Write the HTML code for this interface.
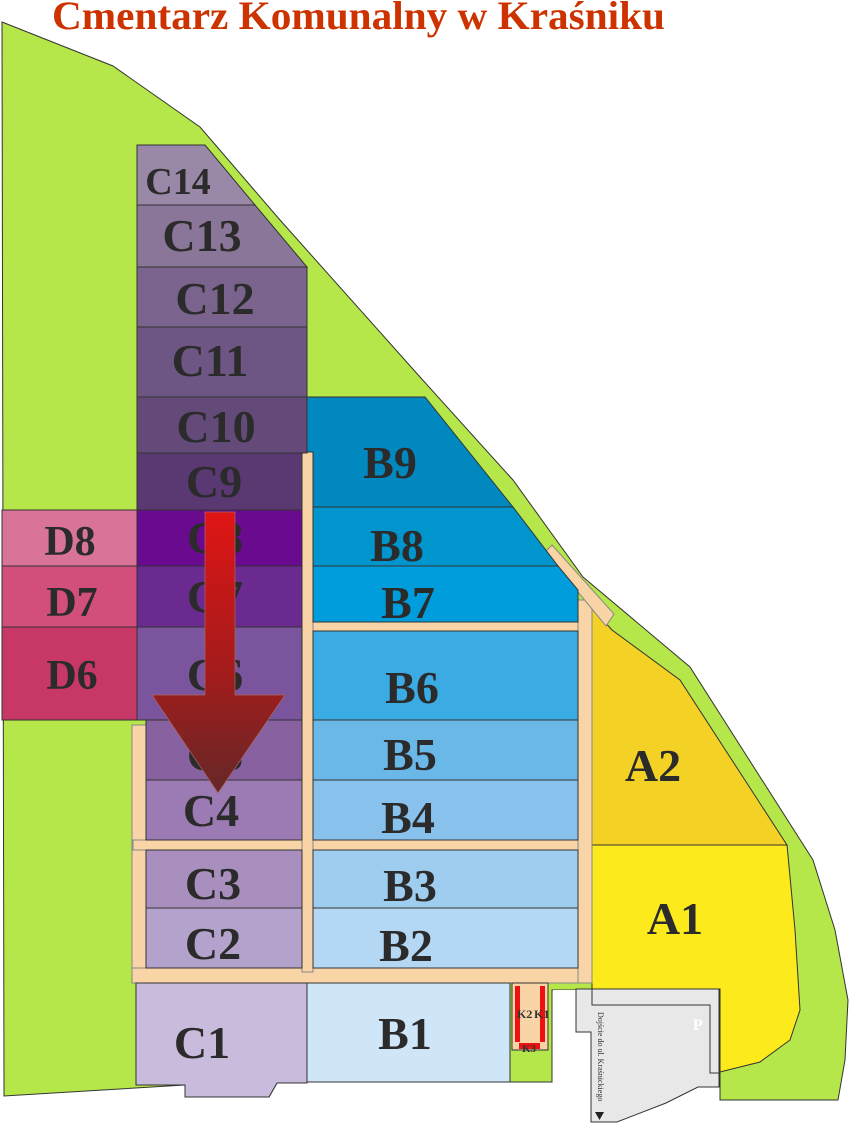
<!DOCTYPE html>
<html><head><meta charset="utf-8"><style>
html,body{margin:0;padding:0;background:#fff;}
svg{display:block;}
.l{font-family:"Liberation Serif",serif;font-weight:bold;fill:#2b2b2b;text-anchor:middle;}
</style></head><body>
<svg width="852" height="1123" viewBox="0 0 852 1123" xmlns="http://www.w3.org/2000/svg">
<defs>
<linearGradient id="ar" x1="0" y1="0" x2="0" y2="1">
<stop offset="0" stop-color="#e01515"/><stop offset="0.6" stop-color="#a01c1c"/><stop offset="1" stop-color="#652828"/>
</linearGradient>
</defs>
<text x="52" y="29" textLength="613" lengthAdjust="spacingAndGlyphs" style="font-family:'Liberation Serif',serif;font-weight:bold;font-size:40px;fill:#cc3300">Cmentarz Komunalny w Kraśniku</text>
<g stroke="#333" stroke-width="1">
<polygon fill="#b5e64a" points="2,22 113,66 200,127 280,220 420,377 513,480 583,577 690,667 813,860 835,930 848,1000 845,1060 838,1100 720,1100 720,1073 592,1073 592,990 552,990 552,1082 510,1082 510,983 307,983 307,1083 277,1083 269,1097 185,1097 185,1085 4,1096"/>
<polygon fill="#fdea1d" points="592,845 787,845 795,930 800,1010 790,1040 760,1062 720,1072 720,989 592,989"/>
<polygon fill="#f4d225" points="592,608 612,630 680,680 787,845 592,845"/>
<g fill="#f9d4a6" stroke="#888">
<rect x="132" y="725" width="14" height="258"/>
<rect x="132" y="968" width="460" height="15"/>
<rect x="133" y="840" width="459" height="10"/>
<rect x="302" y="452" width="11" height="520"/>
<rect x="313" y="622" width="267" height="9"/>
<rect x="578" y="600" width="14" height="383"/>
<polygon points="545,552 552,545 614,614 606,626"/>
</g>
<polygon fill="#9a88a8" points="137,145 205,145 255,205 137,205"/>
<polygon fill="#8a7699" points="137,205 255,205 307,267 137,267"/>
<rect fill="#7a648e" x="137" y="267" width="170" height="60"/>
<rect fill="#6e5684" x="137" y="327" width="170" height="70"/>
<rect fill="#634a79" x="137" y="397" width="170" height="56"/>
<rect fill="#5a3872" x="137" y="453" width="165" height="57"/>
<rect fill="#6a0a8e" x="137" y="510" width="165" height="56"/>
<rect fill="#6a2a90" x="137" y="566" width="165" height="61"/>
<rect fill="#7a549c" x="137" y="627" width="165" height="93"/>
<rect fill="#8862a0" x="146" y="720" width="156" height="60"/>
<rect fill="#9c7ab4" x="146" y="780" width="156" height="60"/>
<rect fill="#a88fbe" x="146" y="850" width="156" height="58"/>
<rect fill="#b3a2cc" x="146" y="908" width="156" height="60"/>
<polygon fill="#c9bbdc" points="136,983 307,983 307,1083 277,1083 269,1097 185,1097 185,1085 136,1085"/>
<rect fill="#d9739a" x="2" y="510" width="135" height="56"/>
<rect fill="#d24f7c" x="2" y="566" width="135" height="61"/>
<rect fill="#c83866" x="2" y="627" width="135" height="93"/>
<polygon fill="#0088bf" points="307,397 425,397 513,507 313,507 313,452 307,452"/>
<polygon fill="#0095cc" points="313,507 513,507 558,566 313,566"/>
<polygon fill="#009ddd" points="313,566 558,566 578,590 578,622 313,622"/>
<rect fill="#3babe3" x="313" y="631" width="265" height="89"/>
<rect fill="#69b8e8" x="313" y="720" width="265" height="60"/>
<rect fill="#87c1ec" x="313" y="780" width="265" height="60"/>
<rect fill="#9fcdf0" x="313" y="850" width="265" height="58"/>
<rect fill="#b4d8f3" x="313" y="908" width="265" height="60"/>
<rect fill="#cfe5f8" x="307" y="983" width="203" height="99"/>
<rect fill="#f9d4a6" x="512" y="983" width="36" height="67"/>
<rect fill="#fff" stroke="none" x="553" y="990" width="23" height="133"/>
<polygon fill="#e8e8e8" points="576,989 719,989 719,1087 698,1087 666,1103 617,1122 591,1122 591,1032 576,1032"/>
<polyline fill="none" points="592,989 592,1005 710,1005 710,1073 719,1073"/>
</g>
<g fill="#ee1111">
<rect x="515" y="986" width="5" height="56"/><rect x="540" y="986" width="5" height="56"/><rect x="519" y="1043" width="21" height="6"/>
</g>
<text x="517" y="1018" style="font-family:'Liberation Serif',serif;font-weight:bold;font-size:12px;fill:#333">K2</text>
<text x="534" y="1018" style="font-family:'Liberation Serif',serif;font-weight:bold;font-size:12px;fill:#333">K1</text>
<text x="522" y="1052" style="font-family:'Liberation Serif',serif;font-weight:bold;font-size:11px;fill:#333">K3</text>
<text x="693" y="1030" style="font-family:'Liberation Serif',serif;font-weight:bold;font-size:16px;fill:#fff">P</text>
<text transform="translate(598,1012) rotate(90)" style="font-family:'Liberation Serif',serif;font-size:8px;fill:#333">Dojście do ul. Kraśnickiego</text>
<polygon fill="#222" points="595,1112 604,1112 599.5,1120"/>
<g class="l">
<text x="178" y="194" font-size="38">C14</text>
<text x="202" y="251" font-size="46">C13</text>
<text x="215" y="314" font-size="46">C12</text>
<text x="210" y="376" font-size="46">C11</text>
<text x="216" y="442" font-size="46">C10</text>
<text x="214" y="497" font-size="46">C9</text>
<text x="215" y="553" font-size="46">C8</text>
<text x="215" y="612" font-size="46">C7</text>
<text x="215" y="690" font-size="46">C6</text>
<text x="215" y="770" font-size="46">C5</text>
<text x="211" y="826" font-size="46">C4</text>
<text x="213" y="899" font-size="46">C3</text>
<text x="213" y="959" font-size="46">C2</text>
<text x="202" y="1058" font-size="46">C1</text>
<text x="70" y="555" font-size="42">D8</text>
<text x="72" y="616" font-size="42">D7</text>
<text x="72" y="689" font-size="42">D6</text>
<text x="390" y="478" font-size="46">B9</text>
<text x="397" y="561" font-size="46">B8</text>
<text x="408" y="618" font-size="46">B7</text>
<text x="412" y="703" font-size="46">B6</text>
<text x="410" y="770" font-size="46">B5</text>
<text x="408" y="833" font-size="46">B4</text>
<text x="410" y="901" font-size="46">B3</text>
<text x="406" y="961" font-size="46">B2</text>
<text x="405" y="1049" font-size="46">B1</text>
<text x="653" y="781" font-size="46">A2</text>
<text x="675" y="934" font-size="46">A1</text>
</g>
<polygon fill="url(#ar)" stroke="#a66" stroke-width="0.7" points="205,512 235,512 235,695 285,695 218,793 152,695 205,695"/>
</svg>
</body></html>
